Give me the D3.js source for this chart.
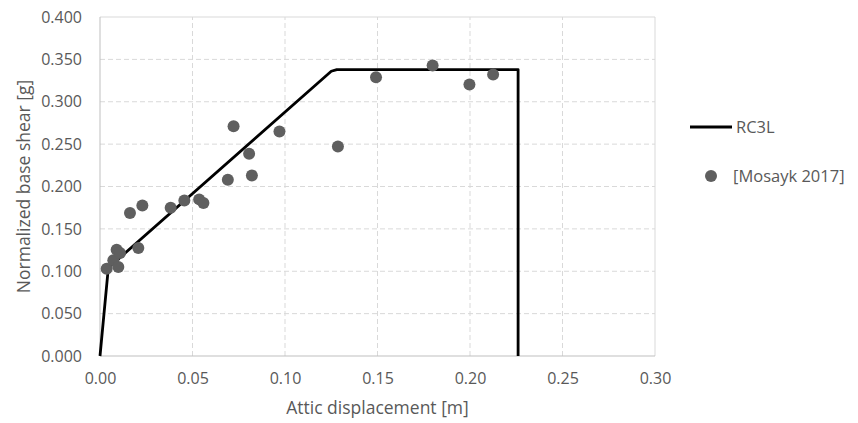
<!DOCTYPE html>
<html><head><meta charset="utf-8">
<script src="https://cdn.jsdelivr.net/npm/d3@7"></script>
<style>body{margin:0;background:#fff}svg{display:block}text{font-family:"Open Sans",sans-serif;fill:#595959}</style>
</head><body><svg id="c" width="858" height="423"></svg>
<script>
const xTicks = [0, 0.05, 0.10, 0.15, 0.20, 0.25, 0.30];
const yTicks = [0, 0.05, 0.10, 0.15, 0.20, 0.25, 0.30, 0.35, 0.40];
const rc3lX = [0, 0.0045, 0.125, 0.128, 0.226, 0.226];
const rc3lY = [0, 0.104, 0.336, 0.338, 0.338, 0];
const mosaykX = [0.0036,0.0072,0.0099,0.009,0.0108,0.0207,0.0162,0.0229,0.0382,0.0456,0.0536,0.0559,0.0722,0.097,0.0806,0.0821,0.0691,0.1286,0.1492,0.1798,0.1997,0.2125];
const mosaykY = [0.103,0.113,0.105,0.1255,0.1215,0.1274,0.1686,0.1777,0.175,0.1836,0.1848,0.1804,0.2712,0.265,0.2387,0.2131,0.208,0.2473,0.329,0.3428,0.3204,0.3322];
const seriesNames = ["RC3L", "[Mosayk 2017]"];

const svg = d3.select("#c");
const x = d3.scaleLinear().domain([0, 0.30]).range([100, 655]);
const y = d3.scaleLinear().domain([0, 0.40]).range([356, 17]);

// grid
svg.append("g").selectAll("line").data(yTicks.filter(v => v > 0 && v < 0.4)).join("line")
  .attr("x1", x(0)).attr("x2", x(0.30)).attr("y1", d => y(d)).attr("y2", d => y(d))
  .attr("stroke", "#d9d9d9").attr("stroke-width", 1).attr("stroke-dasharray", "5,3");
svg.append("g").selectAll("line").data(xTicks.filter(v => v > 0 && v < 0.3)).join("line")
  .attr("y1", y(0)).attr("y2", y(0.40)).attr("x1", d => x(d)).attr("x2", d => x(d))
  .attr("stroke", "#d9d9d9").attr("stroke-width", 1).attr("stroke-dasharray", "5,3");
// frame
svg.append("line").attr("x1", x(0)).attr("x2", x(0.3)).attr("y1", y(0.4)).attr("y2", y(0.4)).attr("stroke", "#d9d9d9");
svg.append("line").attr("x1", x(0.3)).attr("x2", x(0.3)).attr("y1", y(0)).attr("y2", y(0.4)).attr("stroke", "#d9d9d9");
svg.append("line").attr("x1", x(0)).attr("x2", x(0)).attr("y1", y(0)).attr("y2", y(0.4)).attr("stroke", "#bfbfbf");
svg.append("line").attr("x1", x(0)).attr("x2", x(0.3)).attr("y1", y(0)).attr("y2", y(0)).attr("stroke", "#bfbfbf");

// axes with d3 axis generators (labels only)
const xAxis = svg.append("g").attr("transform", `translate(0,${y(0)})`)
  .call(d3.axisBottom(x).tickValues(xTicks).tickFormat(d3.format(".2f")).tickSize(0).tickPadding(17));
xAxis.select(".domain").remove();
xAxis.selectAll("text").attr("font-size", 16).style("font-family", '"Open Sans",sans-serif').attr("fill", "#595959");
const yAxis = svg.append("g").attr("transform", `translate(${x(0)},0)`)
  .call(d3.axisLeft(y).tickValues(yTicks).tickFormat(d3.format(".3f")).tickSize(0).tickPadding(18));
yAxis.select(".domain").remove();
yAxis.selectAll("text").attr("font-size", 16).style("font-family", '"Open Sans",sans-serif').attr("fill", "#595959");

// titles
svg.append("text").attr("x", (x(0) + x(0.3)) / 2).attr("y", 414).attr("text-anchor", "middle")
  .attr("font-size", 17.5).text("Attic displacement [m]");
svg.append("text").attr("transform", `translate(30,${(y(0) + y(0.4)) / 2}) rotate(-90)`).attr("text-anchor", "middle")
  .attr("font-size", 17.5).text("Normalized base shear [g]");

// RC3L line
const lineData = rc3lX.map((v, i) => [v, rc3lY[i]]);
svg.append("path").datum(lineData)
  .attr("d", d3.line().x(d => x(d[0])).y(d => y(d[1])))
  .attr("fill", "none").attr("stroke", "#000").attr("stroke-width", 2.8).attr("stroke-linejoin", "round");

// scatter
svg.append("g").selectAll("circle").data(mosaykX.map((v, i) => [v, mosaykY[i]])).join("circle")
  .attr("cx", d => x(d[0])).attr("cy", d => y(d[1])).attr("r", 6).attr("fill", "#5f5f5f");

// legend
svg.append("line").attr("x1", 690).attr("x2", 732).attr("y1", 127).attr("y2", 127).attr("stroke", "#000").attr("stroke-width", 2.8);
svg.append("text").attr("x", 736).attr("y", 133).attr("font-size", 16.5).text(seriesNames[0]);
svg.append("circle").attr("cx", 711).attr("cy", 176).attr("r", 6).attr("fill", "#5f5f5f");
svg.append("text").attr("x", 733).attr("y", 182).attr("font-size", 16.5).text(seriesNames[1]);
</script></body></html>
